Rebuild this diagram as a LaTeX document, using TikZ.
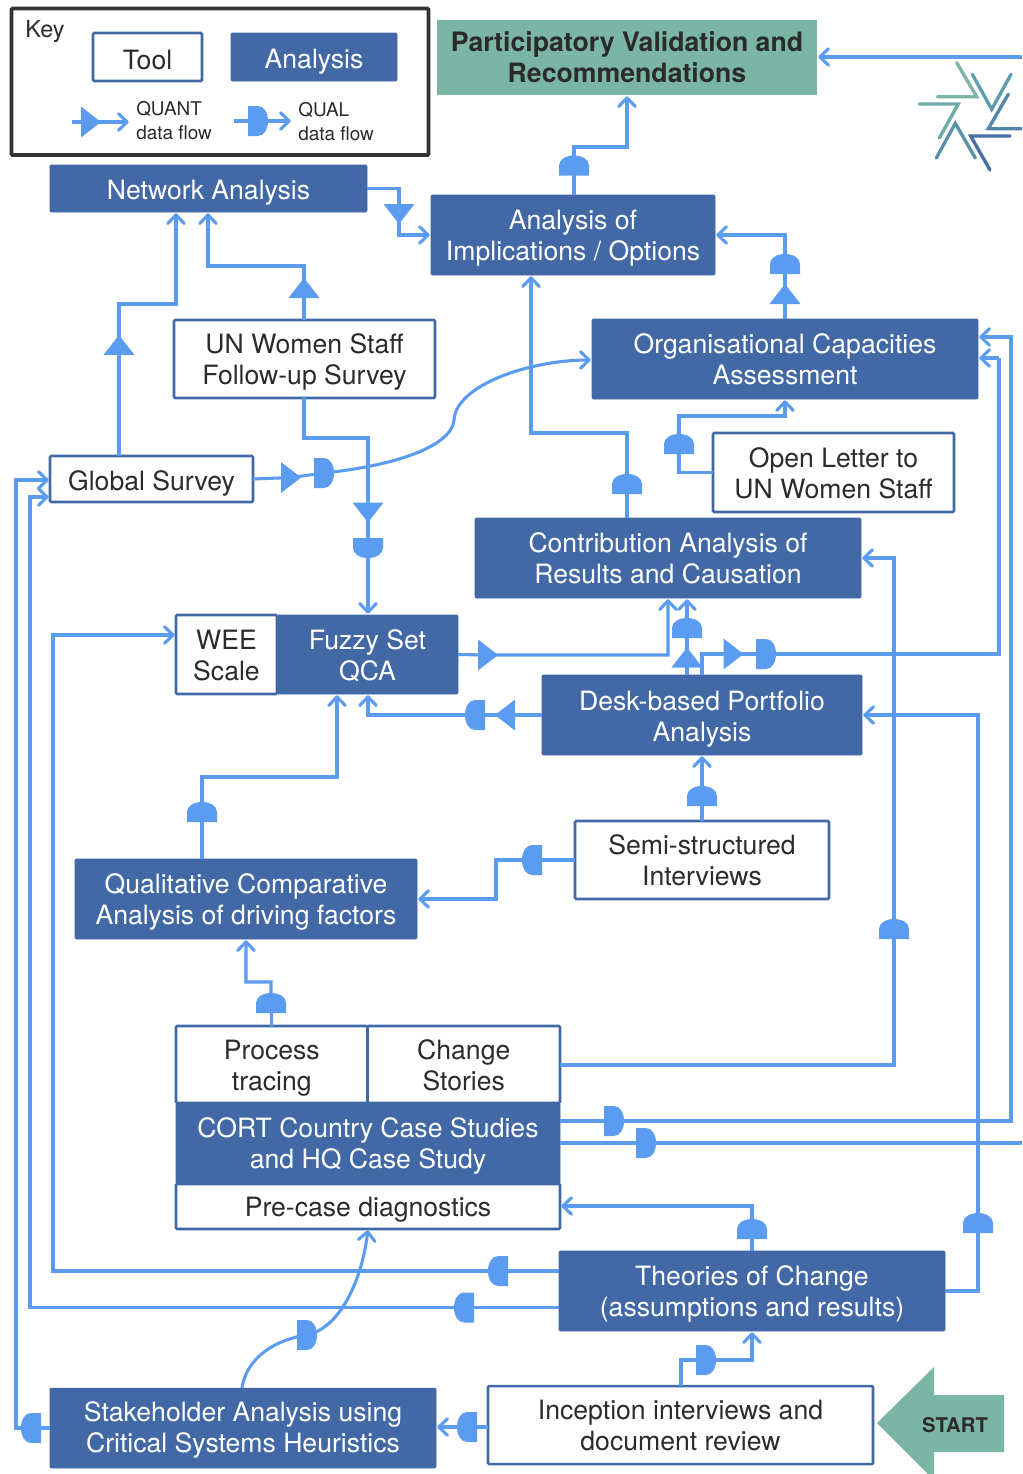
\documentclass[tikz,border=0pt]{standalone}
\usepackage{fontspec}
\setmainfont{TeX Gyre Heros}
\usetikzlibrary{arrows.meta,calc}
\definecolor{flowblue}{HTML}{5B9BF0}
\definecolor{boxblue}{HTML}{4269A5}
\definecolor{tealbox}{HTML}{7BB5A5}
\definecolor{inkdark}{HTML}{2B2B2B}
\definecolor{keyline}{HTML}{333333}
\definecolor{logoa}{HTML}{7BB5A5}
\definecolor{logob}{HTML}{5E9EB0}
\definecolor{logoc}{HTML}{4F86AA}
\definecolor{logod}{HTML}{4670A5}
\definecolor{logoe}{HTML}{5A90A8}
\definecolor{logof}{HTML}{6FACA8}
\tikzset{
  x=0.75pt,y=-0.75pt,
  basebox/.style={inner sep=0pt,outer sep=0pt,align=center,rounded corners=0.8pt,
    font=\fontsize{19.95}{23.25}\selectfont},
  toolbox/.style={basebox,draw=boxblue,line width=1.9pt,fill=white,text=inkdark},
  anabox/.style={basebox,fill=boxblue,draw=boxblue,line width=0.4pt,text=white},
  goalbox/.style={basebox,fill=tealbox,text=inkdark,rounded corners=0pt,font=\fontsize{20}{23.25}\selectfont\bfseries},
  keybox/.style={basebox,draw=keyline,line width=2.8pt,fill=white},
  flow/.style={draw=flowblue,line width=2.3pt},
  flowto/.style={flow,-{Straight Barb[length=6.5pt,width=12.5pt,line width=2.3pt,round]},shorten >=1pt},
  gatefill/.style={fill=flowblue},
  keytext/.style={text=inkdark,inner sep=0pt,anchor=west,font=\fontsize{14.2}{18}\selectfont,align=left},
  logoline/.style={line width=2.5pt,line cap=round,line join=miter},
}
% [text shift down, px] name style x1 y1 x2 y2 text
\newcommand{\boxn}[8][0]{%
  \pgfmathsetmacro{\bw}{(#6-#4)*0.75}\pgfmathsetmacro{\bh}{(#7-#5)*0.75}%
  \pgfmathsetmacro{\bx}{(#4+#6)/2}\pgfmathsetmacro{\by}{(#5+#7)/2}%
  \pgfmathsetmacro{\ba}{15+1.5*#1}%
  \node[#3,minimum width=\bw pt,minimum height=\bh pt] (#2) at (\bx,\by) {\rule{0pt}{\ba pt}#8\rule[-0.8pt]{0pt}{0.8pt}};}
% D-shaped qualitative gate: name, x, y, canvas direction
\newcommand{\gateD}[4]{%
  \coordinate (#1) at (#2,#3);
  \fill[gatefill,shift={(#2,#3)},rotate=#4]
    (-10,-15) -- (0,-15) .. controls (6,-15) and (10,-8) .. (10,0)
    .. controls (10,8) and (6,15) .. (0,15) -- (-10,15) -- cycle;}
% triangular quantitative gate
\newcommand{\gateT}[4]{%
  \coordinate (#1) at (#2,#3);
  \fill[gatefill,shift={(#2,#3)},rotate=#4] (-10,-15.5) -- (10,0) -- (-10,15.5) -- cycle;}
\begin{document}
\begin{tikzpicture}
\useasboundingbox (0,0) rectangle (1022,1474);
\fill[white] (0,0) rectangle (1022,1474);
\clip (0,0) rectangle (1022,1474);

% ---------- boxes
\boxn{keyframe}{keybox}{11.5}{8.5}{428.5}{155}{}
\node[text=inkdark,inner sep=0pt,font=\fontsize{17.6}{20}\selectfont] (keyword) at (45,32) {Key};
\boxn[3]{keytool}{toolbox}{93}{33}{202}{81}{Tool}
\boxn[4]{keyana}{anabox}{231}{33}{397}{81}{Analysis}
\node[keytext] (quanttext) at (136,120.5) {QUANT\\data flow};
\node[keytext] (qualtext) at (298,121.5) {QUAL\\data flow};

\boxn{part}{goalbox}{437}{20}{817}{95}{Participatory Validation and\\Recommendations}
\boxn[4]{net}{anabox}{50}{165}{367}{212}{Network Analysis}
\boxn[3]{impl}{anabox}{431}{195}{715}{275}{Analysis of\\Implications / Options}
\boxn[3]{staff}{toolbox}{174}{320}{435}{398}{UN Women Staff\\Follow-up Survey}
\boxn[1]{org}{anabox}{592}{319}{978}{399}{Organisational Capacities\\Assessment}
\boxn[4]{glob}{toolbox}{50}{456}{253}{502}{Global Survey}
\boxn[1]{letter}{toolbox}{713}{433}{954}{512}{Open Letter to\\UN Women Staff}
\boxn[1]{contrib}{anabox}{475}{518}{861}{598}{Contribution Analysis of\\Results and Causation}
\boxn[1]{fuzzy}{anabox}{277}{615}{458}{694}{Fuzzy Set\\QCA}
\boxn[1]{wee}{toolbox}{176}{615}{277}{694}{WEE\\Scale}
\boxn[4]{desk}{anabox}{542}{675}{862}{755}{Desk-based Portfolio\\Analysis}
\boxn[1]{semi}{toolbox}{575}{821}{829}{899}{Semi-structured\\Interviews}
\boxn[3]{qca}{anabox}{75}{859}{417}{939}{Qualitative Comparative\\Analysis of driving factors}
\boxn[3]{proc}{toolbox}{176}{1026}{367.5}{1103}{Process\\tracing}
\boxn[1]{chg}{toolbox}{367.5}{1026}{560}{1103}{Change\\Stories}
\boxn[3]{pre}{toolbox}{176}{1184}{560}{1229}{Pre-case diagnostics}
\boxn[2]{cort}{anabox}{176}{1103}{560}{1184}{CORT Country Case Studies\\and HQ Case Study}
\boxn[3]{toc}{anabox}{559}{1251}{945}{1331}{Theories of Change\\(assumptions and results)}
\boxn[1]{incep}{toolbox}{488}{1386}{873}{1464}{Inception interviews and\\document review}
\boxn[2]{stake}{anabox}{50}{1388}{436}{1468}{Stakeholder Analysis using\\Critical Systems Heuristics}

% ---------- START arrow
\fill[tealbox] (877,1423) -- (934,1367) -- (934,1395) -- (1004,1395) -- (1004,1452) -- (934,1452) -- (934,1480) -- cycle;
\node[inner sep=0pt,text=inkdark,font=\fontsize{15.2}{18}\selectfont\bfseries] (startlabel) at (955,1425.5) {START};

% ---------- free ends and bends
\coordinate (edgeTop) at (1022,57);
\coordinate (edgeLow) at (1022,1143);
\coordinate (kqa) at (72,122);  \coordinate (kqb) at (130,122);
\coordinate (kla) at (234,121); \coordinate (klb) at (292,121);
\coordinate (bImpl) at (627,147);
\coordinate (bStaff) at (208,266);
\coordinate (bGlob) at (176,304);
\coordinate (bStaff2) at (368,438);
\coordinate (bContrib) at (531,433);
\coordinate (bLetter) at (785,416);
\coordinate (bFuzzy) at (668,655);
\coordinate (bDesk) at (999,358);
\coordinate (bDeskS) at (702,654);
\coordinate (bSemi) at (496,899);
\coordinate (bQca) at (337,777);
\coordinate (bProc) at (246,982);
\coordinate (bChg) at (894,558);
\coordinate (bCort) at (1011,337);
\coordinate (bTocA) at (752,1206);
\coordinate (bTocB) at (978,715);
\coordinate (bTocC) at (53,635);
\coordinate (bTocD) at (30,497);
\coordinate (bStk) at (16,480);
\coordinate (bInc) at (752,1359);

% ---------- gates
\gateT{kt}{91}{122}{0}
\gateD{kd}{258}{121}{0}
\gateT{gNet}{399}{214}{270}
\gateD{gImpl}{574}{165.5}{90}
\gateD{gOrgD}{785}{264}{90}
\gateT{gOrgT}{785}{294}{90}
\gateT{gStaff}{304}{288}{90}
\gateT{gGlob}{119}{345}{90}
\gateT{gStT}{368}{512.5}{270}
\gateD{gStD}{368}{548}{270}
\gateT{gGsT}{291}{477.5}{0}
\gateD{gGsD}{324}{473}{0}
\gateD{gCon}{627}{484}{90}
\gateD{gLet}{679}{444}{90}
\gateT{gFuz}{488}{655}{0}
\gateT{gDkT}{687}{657.5}{90}
\gateD{gDkD}{687}{628}{90}
\gateT{gDeT}{733.5}{654}{0}
\gateD{gDeD}{766}{654}{0}
\gateT{gDfT}{505}{715}{180}
\gateD{gDfD}{475}{715}{180}
\gateD{gSemN}{702}{796}{90}
\gateD{gSemW}{532}{860}{180}
\gateD{gQca}{202}{812}{90}
\gateD{gProc}{271}{1003}{90}
\gateD{gChg}{894}{929}{90}
\gateD{gCoA}{614}{1121}{0}
\gateD{gCoB}{646}{1143}{0}
\gateD{gToA}{752}{1229}{90}
\gateD{gToB}{978}{1223}{90}
\gateD{gToC}{498}{1271}{180}
\gateD{gToD}{464}{1307.5}{180}
\gateD{gStk}{31}{1428}{180}
\gateD{gInA}{706}{1360}{0}
\gateD{gInB}{467}{1427}{180}
\gateD{gCur}{307}{1335}{0}

% ---------- connectors
\draw[flowto] (kqa) -- (kqb);
\draw[flowto] (kla) -- (klb);
\draw[flowto] (net.east) -| (gNet) |- (impl.west);
\draw[flowto] (gImpl |- impl.north) -- (gImpl) |- (bImpl) -- (bImpl |- part.south);
\draw[flowto] (gOrgT |- org.north) -- (gOrgD) |- (impl.east);
\draw[flowto] (edgeTop) -- (edgeTop -| part.east);
\draw[flowto] (gStaff |- staff.north) -- (gStaff) |- (bStaff) -- (bStaff |- net.south);
\draw[flowto] (gGlob |- glob.north) -- (gGlob) |- (bGlob) -- (bGlob |- net.south);
\draw[flowto] (staff.south -| gStaff) |- (bStaff2) -- (bStaff2 |- fuzzy.north);
\draw[flowto] (glob.east) -- (gGsT) -- (gGsD)
  .. controls (400,465) and (452,445) .. (454,420)
  .. controls (456,385) and (530,360) .. (org.west |- 0,360);
\draw[flowto] (gCon |- contrib.north) -- (gCon) |- (bContrib) -- (bContrib |- impl.south);
\draw[flowto] (letter.west) -| (gLet) |- (bLetter) -- (bLetter |- org.south);
\draw[flowto] (fuzzy.east) -- (gFuz) -| (bFuzzy) -- (bFuzzy |- contrib.south);
\draw[flowto] (gDkT |- desk.north) -- (gDkD) -- (gDkD |- contrib.south);
\draw[flow] (bDeskS |- desk.north) -- (bDeskS) -- (gDeD) -| (bDesk);
\draw[flowto] (bDesk) -- (bDesk -| org.east);
\draw[flowto] (desk.west) -- (gDfD) -| (gStD |- fuzzy.south);
\draw[flowto] (semi.north) -- (gSemN) -- (gSemN |- desk.south);
\draw[flowto] (gSemW -| semi.west) -- (gSemW) -| (bSemi) -- (bSemi -| qca.east);
\draw[flowto] (gQca |- qca.north) -- (gQca) |- (bQca) -- (bQca |- fuzzy.south);
\draw[flowto] (proc.north) -- (gProc) |- (bProc) -- (bProc |- qca.south);
\draw[flowto] (chg.east |- 0,1065) -| (gChg) |- (bChg) -- (bChg -| contrib.east);
\draw[flowto] (gCoA -| cort.east) -- (gCoA) -| (bCort) -- (bCort -| org.east);
\draw[flow] (gCoB -| cort.east) -- (gCoB) -- (edgeLow);
\draw[flowto] (gToA |- toc.north) -- (gToA) |- (pre.east |- bTocA);
\draw[flowto] (toc.east) -| (gToB) |- (desk.east |- bTocB);
\draw[flowto] (gToC -| toc.west) -- (gToC) -| (bTocC) -- (bTocC -| wee.west);
\draw[flowto] (gToD -| toc.west) -- (gToD) -| (bTocD) -- (bTocD -| glob.west);
\draw[flowto] (stake.west |- gStk) -- (gStk) -| (bStk) -- (bStk -| glob.west);
\draw[flowto] (incep.north -| 681,0) |- (gInA) -| (bInc) -- (bInc |- toc.south);
\draw[flowto] (incep.west |- gInB) -- (gInB) -- (gInB -| stake.east);
\draw[flowto] (stake.north -| 242,0) .. controls (246,1360) and (272,1340) .. (gCur)
  .. controls (340,1328) and (362,1280) .. (pre.south);

% ---------- logo
\draw[logoline,logoa] (956.7,62.7) -- (976.7,96.7) -- (937.3,96.7);
\draw[logoline,logob] (972.3,74.3) -- (991.7,109.3) -- (1011,74.3);
\draw[logoline,logoc] (1008.3,94.3) -- (988.3,128.7) -- (1022,128.7);
\draw[logoline,logod] (1010,136) -- (970.7,136) -- (990,170);
\draw[logoline,logoe] (975.3,158) -- (955.3,123.3) -- (936.3,158);
\draw[logoline,logof] (939.3,138) -- (958.3,104) -- (919.3,104);
\end{tikzpicture}
\end{document}
